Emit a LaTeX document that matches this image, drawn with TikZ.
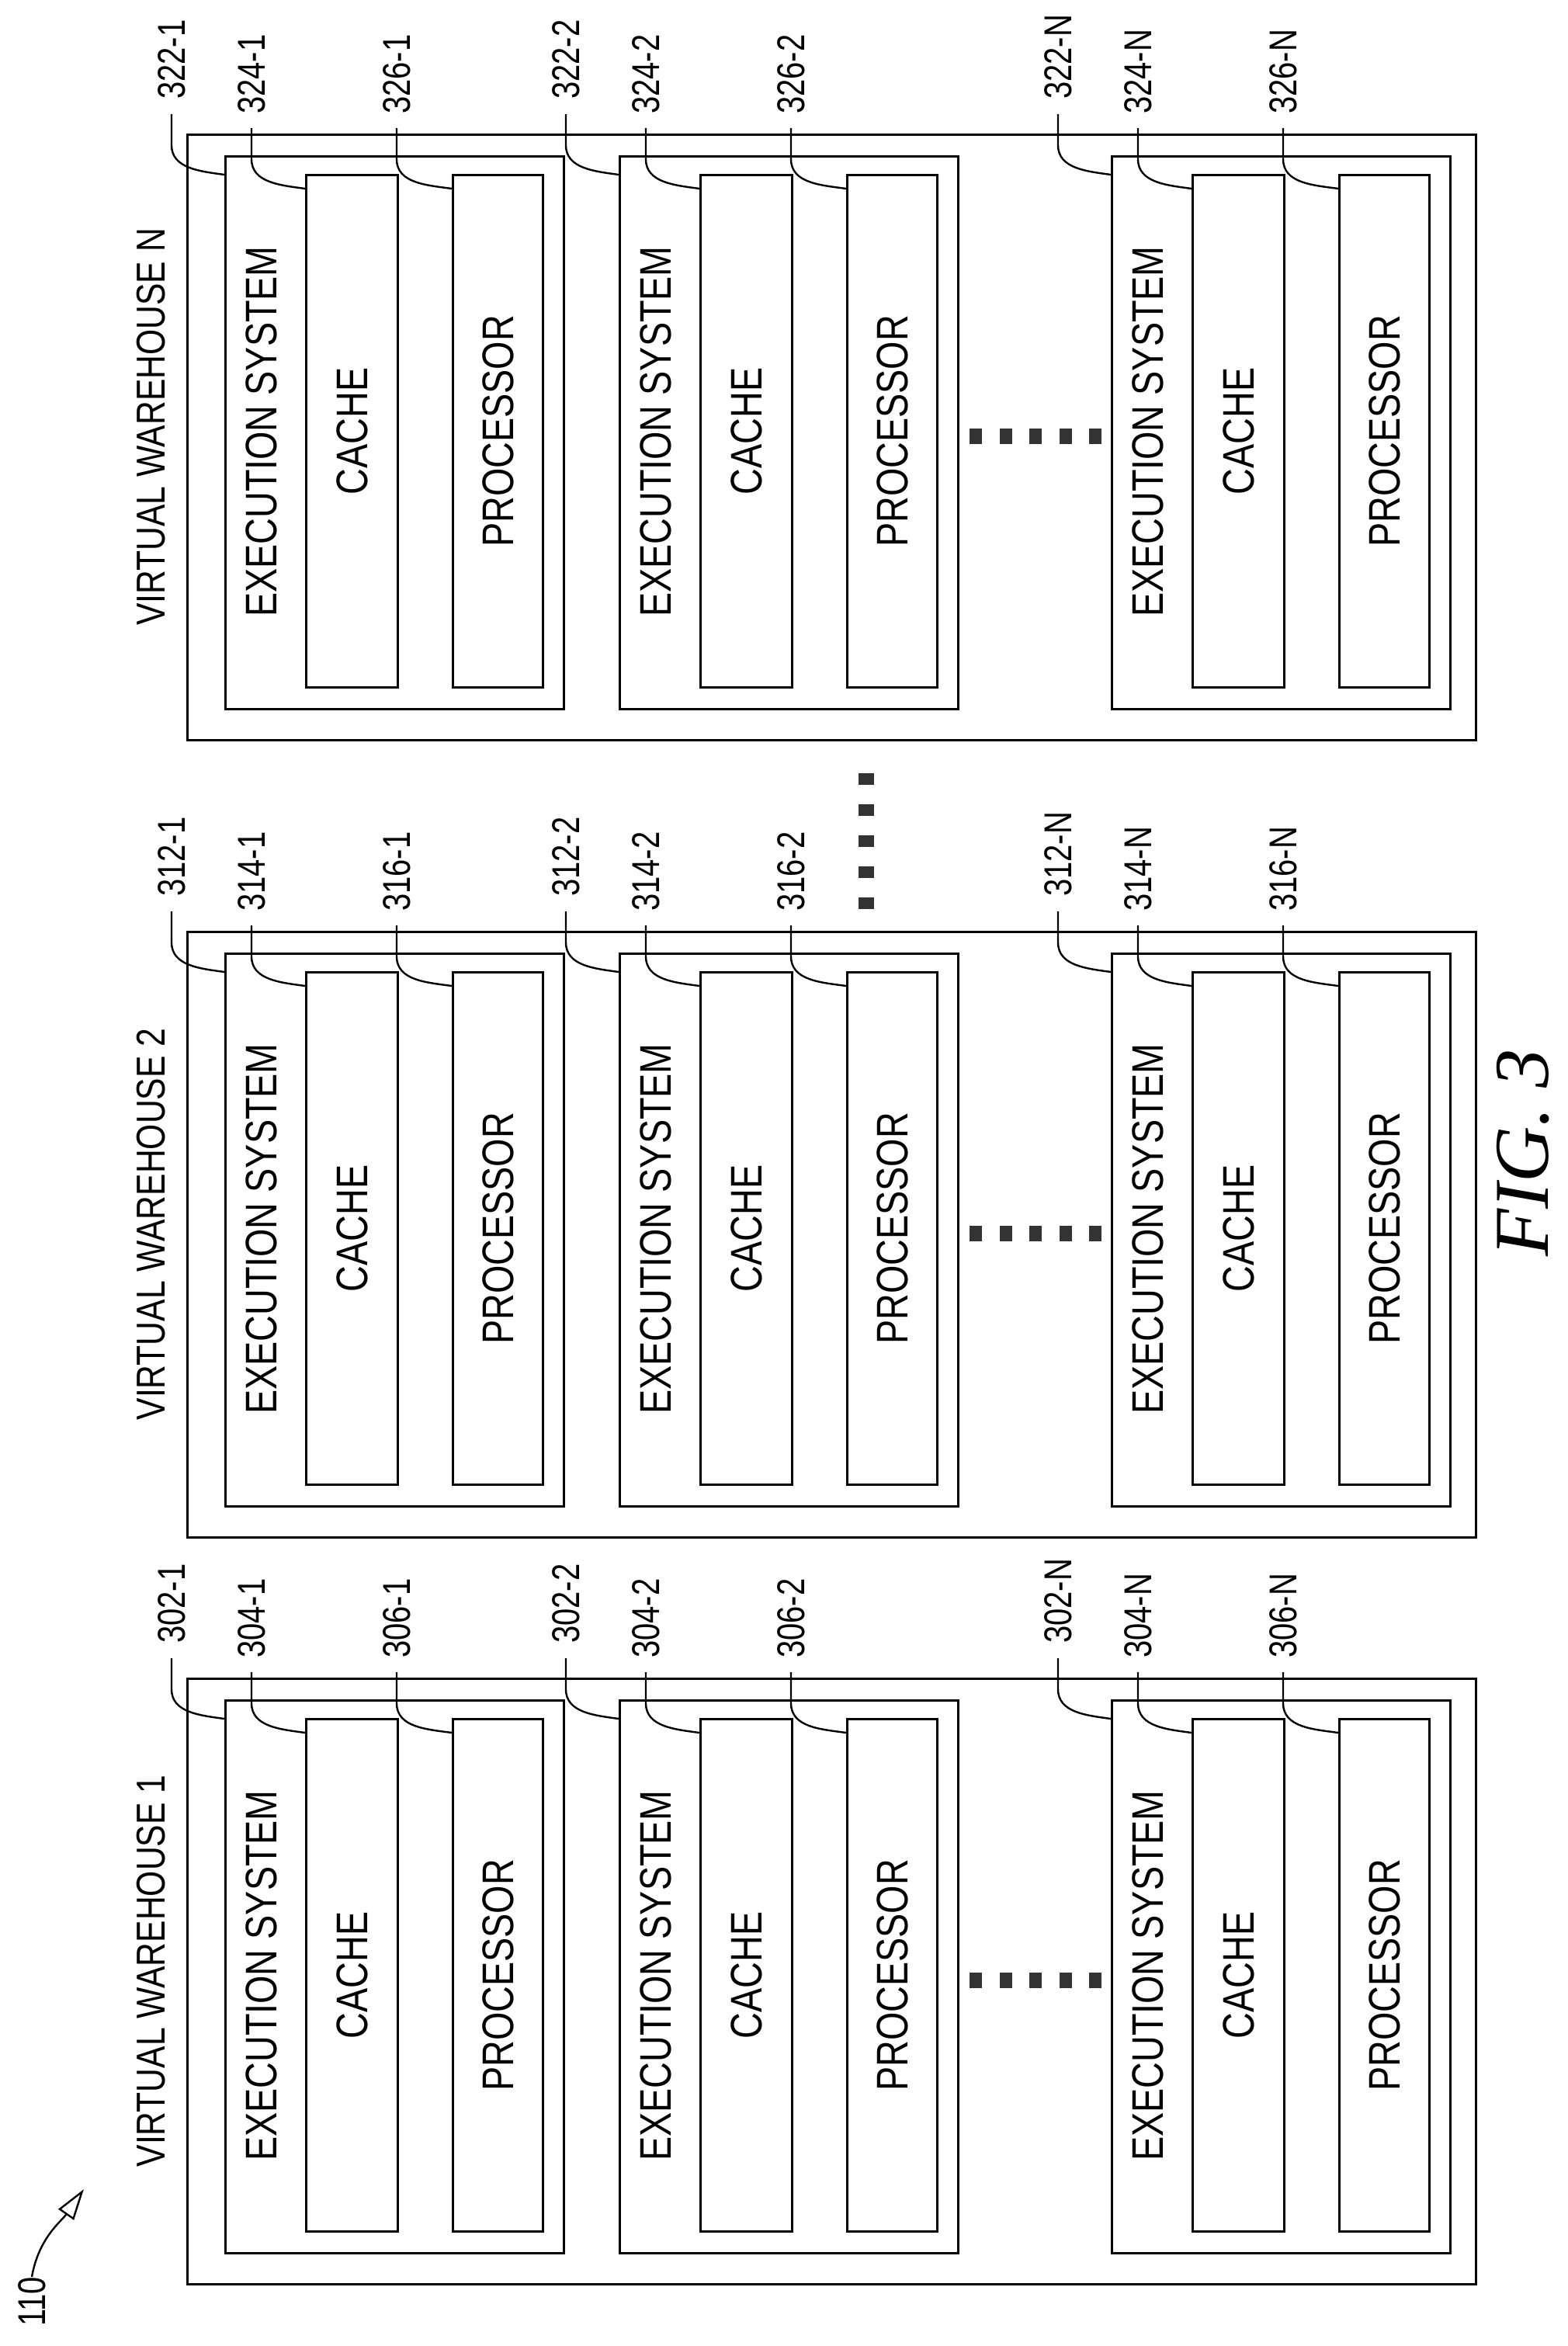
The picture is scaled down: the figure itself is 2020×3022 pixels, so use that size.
\documentclass[tikz,border=0pt]{standalone}
\usepackage{fontspec}
\setmainfont{Liberation Sans}
\newfontfamily\figfont{Liberation Serif}
\usetikzlibrary{arrows.meta,calc}
\tikzstyle{box-node}=[draw,line width=2.8pt,inner sep=0pt,anchor=north west]
\tikzstyle{text-node}=[rotate=90,inner sep=0pt,font=\fontsize{57}{60}\selectfont]
\tikzstyle{ref-node}=[rotate=90,inner sep=0pt,anchor=west,font=\fontsize{50}{52}\selectfont]
\tikzstyle{lead-line}=[draw=black,line width=2.4pt]
\tikzstyle{dot-node}=[fill=black!80,inner sep=0pt,minimum width=16pt,minimum height=20pt]
\newcommand{\nar}[1]{\scalebox{0.82}[1]{#1}}
\newcommand{\refnar}[1]{\scalebox{0.8}[1]{#1}}

\begin{document}
\begin{tikzpicture}[x=1pt,y=1pt]
        \useasboundingbox (0,0) rectangle (2020,-3022);

        % warehouses
        \foreach \wh/\wy/\rp/\wname in {1/2161/30/1, 2/1199/31/2, 3/172/32/N} {
            \node (wh-\wh)[box-node,minimum width=1660pt,minimum height=780pt] at (240,-\wy) {};
            \node (wt-\wh)[text-node,font=\fontsize{52}{55}\selectfont] at (195,-\wy-378) {\nar{VIRTUAL WAREHOUSE \wname}};
            \foreach \col/\xl/\sfx in {1/289/1, 2/797/2, 3/1431/N} {
                \node (ex-\wh-\col)[box-node,minimum width=436pt,minimum height=712pt] at (\xl,-\wy-28) {};
                \node (et-\wh-\col)[text-node] at (\xl+48,-\wy-384) {\nar{EXECUTION SYSTEM}};
                \node (ca-\wh-\col)[box-node,minimum width=118pt,minimum height=660pt] at (\xl+104,-\wy-52) {};
                \node (ct-\wh-\col)[text-node] at (ca-\wh-\col.center) {\nar{CACHE}};
                \node (pr-\wh-\col)[box-node,minimum width=116pt,minimum height=660pt] at (\xl+293,-\wy-52) {};
                \node (pt-\wh-\col)[text-node] at (pr-\wh-\col.center) {\nar{PROCESSOR}};
                \node (lx-\wh-\col)[ref-node] at (\xl-68,-\wy+44) {\refnar{\rp2-\sfx}};
                \node (lc-\wh-\col)[ref-node] at (\xl+35,-\wy+25) {\refnar{\rp4-\sfx}};
                \node (lp-\wh-\col)[ref-node] at (\xl+222,-\wy+25) {\refnar{\rp6-\sfx}};
                \draw[lead-line] ($(lx-\wh-\col.west)+(0,-19)$) -- ($(lx-\wh-\col.west)+(0,-59)$)
                    to[out=-90,in=172] ($(ex-\wh-\col.north west)+(0,-25)$);
                \draw[lead-line] ($(lc-\wh-\col.west)+(0,-18)$) -- ($(lc-\wh-\col.west)+(0,-58)$)
                    to[out=-90,in=172] ($(ca-\wh-\col.north west)+(0,-19)$);
                \draw[lead-line] ($(lp-\wh-\col.west)+(0,-18)$) -- ($(lp-\wh-\col.west)+(0,-58)$)
                    to[out=-90,in=172] ($(pr-\wh-\col.north west)+(0,-19)$);
            }
            \foreach \i in {0,...,4}
                \node (hd-\wh-\i)[dot-node] at (1257+\i*38.5,-\wy-390) {};
        }

        % dots between warehouses
        \foreach \i in {0,...,4}
            \node (vd-\i)[dot-node,minimum width=20pt,minimum height=15pt] at (1116,-1003-\i*40) {};

        % figure reference
        \node (ref110)[ref-node,anchor=center] at (41,-2965) {\refnar{110}};
        \coordinate (reftip) at (108,-2820);
        \draw[lead-line,-{Triangle[open,length=40pt,width=24pt]}] (ref110.east) to[out=80,in=235] (reftip);

        \node (fig)[rotate=90,inner sep=0pt,font=\figfont\itshape\fontsize{100}{104}\selectfont] at (1962,-1485) {FIG. 3};
\end{tikzpicture}
\end{document}
